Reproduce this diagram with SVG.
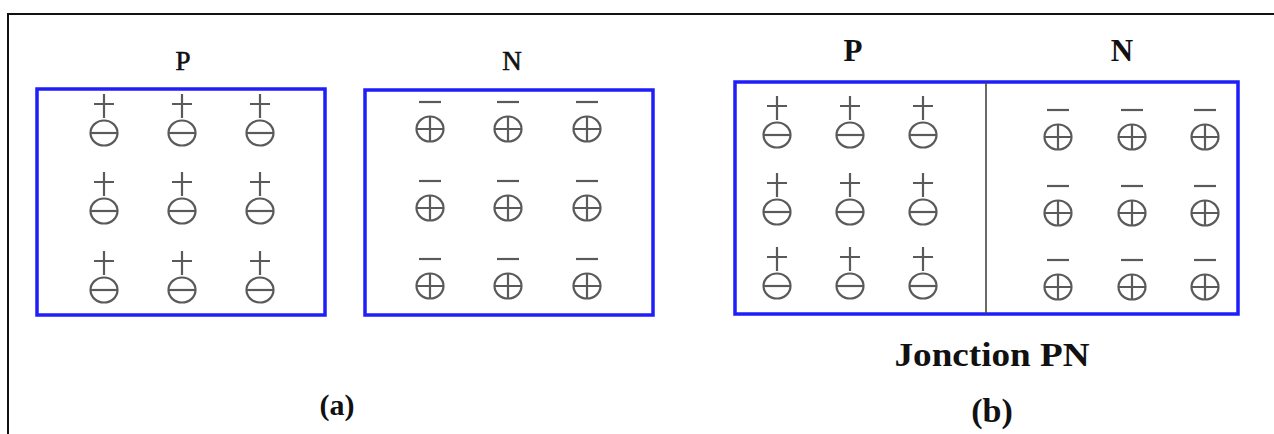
<svg xmlns="http://www.w3.org/2000/svg" xmlns:xlink="http://www.w3.org/1999/xlink" width="1274" height="434" viewBox="0 0 1274 434">
<style>
.frame{fill:none;stroke:#111;stroke-width:2}
.box{fill:#fff;stroke:#1e1efa;stroke-width:3.5}
.sym{fill:none;stroke:#5a5a5a;stroke-width:2.2}
.div{stroke:#444;stroke-width:1.6}
.lbl{font-family:"Liberation Serif","Times New Roman",serif;font-weight:bold;fill:#111;text-anchor:middle}
.lblr{font-family:"Liberation Serif","Times New Roman",serif;fill:#111;stroke:#111;stroke-width:0.6;text-anchor:middle}
</style>
<defs>
<g id="acc" class="sym">
<path d="M-10 -29H10M0 -39V-15"/>
<ellipse cx="0" cy="0" rx="13.5" ry="12.5"/>
<path d="M-13.5 0H13.5"/>
</g>
<g id="don" class="sym">
<path d="M-11 -27H11"/>
<ellipse cx="0" cy="0" rx="13.5" ry="12.5"/>
<path d="M-13.5 0H13.5M0 -12.5V12.5"/>
</g>
</defs>
<rect x="0" y="0" width="1274" height="434" fill="#fff"/>
<path class="frame" d="M8 434V14H1274"/>

<g id="p-type">
<text class="lblr" x="183" y="70" font-size="27">P</text>
<rect class="box" x="37" y="89" width="288" height="226"/>
<use xlink:href="#acc" x="104" y="133"/><use xlink:href="#acc" x="182" y="133"/><use xlink:href="#acc" x="260" y="133"/>
<use xlink:href="#acc" x="104" y="211"/><use xlink:href="#acc" x="182" y="211"/><use xlink:href="#acc" x="260" y="211"/>
<use xlink:href="#acc" x="104" y="290"/><use xlink:href="#acc" x="182" y="290"/><use xlink:href="#acc" x="260" y="290"/>
</g>

<g id="n-type">
<text class="lblr" x="512" y="70" font-size="27">N</text>
<rect class="box" x="365" y="90" width="288" height="225"/>
<use xlink:href="#don" x="430" y="129"/><use xlink:href="#don" x="508" y="129"/><use xlink:href="#don" x="587" y="129"/>
<use xlink:href="#don" x="430" y="208"/><use xlink:href="#don" x="508" y="208"/><use xlink:href="#don" x="587" y="208"/>
<use xlink:href="#don" x="430" y="286"/><use xlink:href="#don" x="508" y="286"/><use xlink:href="#don" x="587" y="286"/>
</g>

<g id="caption-a">
<text class="lbl" x="337" y="415" font-size="30">(a)</text>
</g>

<g id="junction">
<text class="lbl" x="853" y="61" font-size="31">P</text>
<text class="lbl" x="1122" y="61" font-size="31">N</text>
<rect class="box" x="735" y="82" width="503" height="232"/>
<line class="div" x1="986" y1="82" x2="986" y2="314"/>
<use xlink:href="#acc" x="777" y="135"/><use xlink:href="#acc" x="850" y="135"/><use xlink:href="#acc" x="923" y="135"/>
<use xlink:href="#acc" x="777" y="212"/><use xlink:href="#acc" x="850" y="212"/><use xlink:href="#acc" x="923" y="212"/>
<use xlink:href="#acc" x="777" y="286"/><use xlink:href="#acc" x="850" y="286"/><use xlink:href="#acc" x="923" y="286"/>
<use xlink:href="#don" x="1058" y="137"/><use xlink:href="#don" x="1132" y="137"/><use xlink:href="#don" x="1205" y="137"/>
<use xlink:href="#don" x="1058" y="213"/><use xlink:href="#don" x="1132" y="213"/><use xlink:href="#don" x="1205" y="213"/>
<use xlink:href="#don" x="1058" y="287"/><use xlink:href="#don" x="1132" y="287"/><use xlink:href="#don" x="1205" y="287"/>
<text class="lbl" x="992" y="366" font-size="33" textLength="195" lengthAdjust="spacingAndGlyphs">Jonction PN</text>
<text class="lbl" x="992" y="422" font-size="34">(b)</text>
</g>
<g id="connectors"/>
</svg>
